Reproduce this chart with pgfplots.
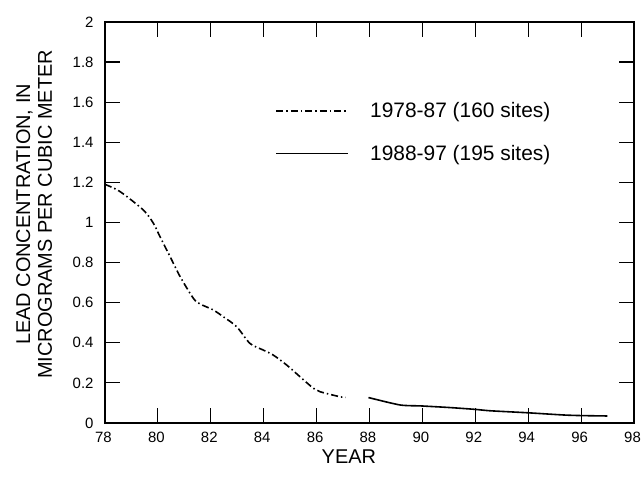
\documentclass[border=0pt]{standalone}
\usepackage{pgfplots}
\pgfplotsset{compat=1.18}
\usepackage{fontspec}
\setmainfont{Liberation Sans}
\begin{document}
\begin{tikzpicture}
\begin{axis}[
  name=ax,
  scale only axis,
  width=529bp, height=401bp,
  xmin=78, xmax=98, ymin=0, ymax=2,
  xtick={78,80,...,98},
  ytick={0,0.2,0.4,0.6,0.8,1,1.2,1.4,1.6,1.8,2},
  tick align=inside,
  major tick length=15bp,
  axis line style={line width=1.6bp},
  every tick/.style={line width=1.2bp, black},
  /pgf/number format/assume math mode=true,
  tick label style={font=\fontsize{15}{17}\selectfont},
  xticklabel style={yshift=-6bp, xshift=-1.5bp},
  yticklabel style={xshift=-8bp},
  xlabel={YEAR},
  xlabel style={font=\fontsize{20}{23}\selectfont, at={(axis description cs:0.461,-0.083)}, anchor=center},
  ylabel={LEAD CONCENTRATION, IN\\MICROGRAMS PER CUBIC METER},
  ylabel style={font=\fontsize{20}{22}\selectfont, align=center, at={(axis description cs:-0.134,0.52)}, anchor=center},
  legend style={draw=none, fill=none, at={(axis cs:84.44,1.60)}, anchor=north west, inner sep=0pt,
    font=\fontsize{21}{24}\selectfont, row sep=26bp,
    nodes={inner sep=0pt}},
  legend cell align=left,
  legend image code/.code={\draw[#1] (0bp,0bp) -- (72bp,0bp);},
  /tikz/every even column/.append style={column sep=0bp},
  /tikz/every odd column/.append style={column sep=21bp},
]
\addplot[black, line width=1.6bp, smooth, tension=0.5, dash pattern=on 7bp off 3bp on 1.5bp off 3bp] coordinates {
(78.0,1.19) (78.57,1.154) (79.45,1.062) (79.83,0.996) (80.08,0.929) (80.46,0.83) (80.84,0.73)
(81.34,0.622) (81.59,0.594) (82.09,0.564) (82.47,0.53) (82.98,0.48) (83.48,0.397) (83.98,0.364)
(84.36,0.339) (84.87,0.289) (85.37,0.231) (85.88,0.173) (86.13,0.156) (86.88,0.131) (87.1,0.128)
};
\addlegendentry{1978-87 (160 sites)}
\addplot[black, line width=1.6bp, smooth, tension=0.4] coordinates {
(87.96,0.127) (89.15,0.09) (89.97,0.085) (91.04,0.077) (91.99,0.068) (92.56,0.061)
(93.98,0.051) (95.33,0.04) (96.0,0.037) (96.99,0.035)
};
\addlegendentry{1988-97 (195 sites)}
\end{axis}
\pgfresetboundingbox
\path[use as bounding box] ([xshift=-105bp,yshift=-55bp]ax.south west) rectangle ([xshift=7bp,yshift=22bp]ax.north east);
\end{tikzpicture}
\end{document}
